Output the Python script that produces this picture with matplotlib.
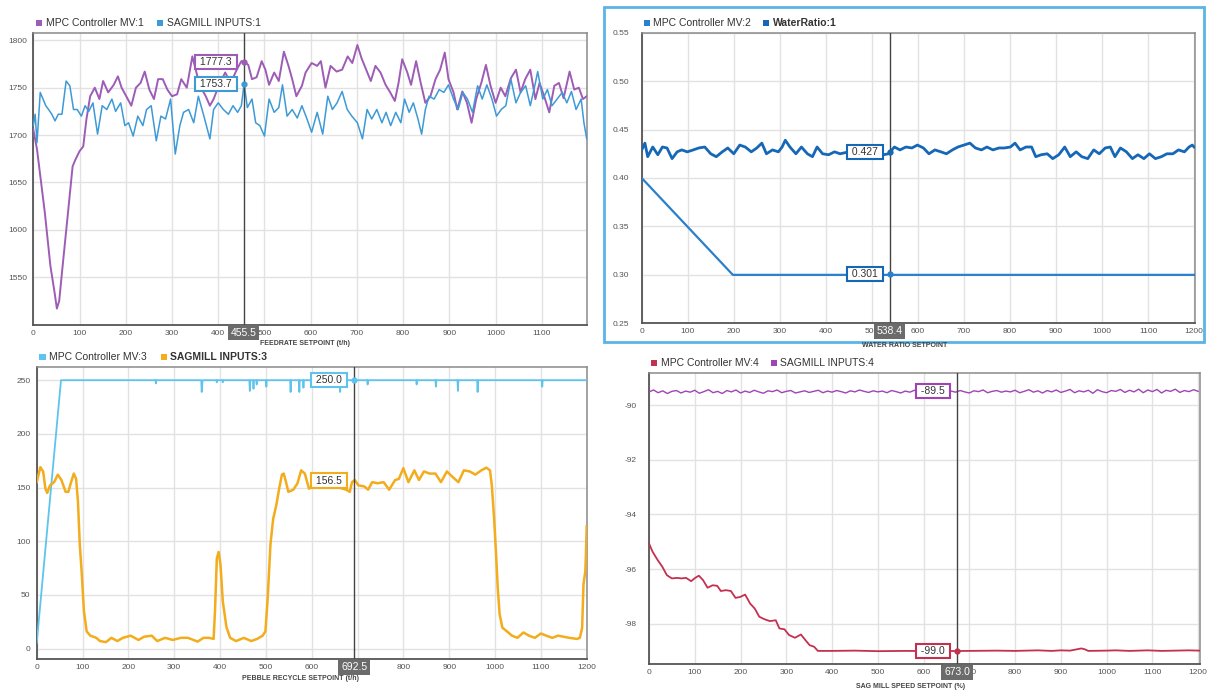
import matplotlib
matplotlib.use('Agg')
import matplotlib.pyplot as plt
from matplotlib.patches import Rectangle

plt.rcParams['font.family'] = ['Liberation Sans', 'DejaVu Sans']
plt.rcParams['axes.unicode_minus'] = False

# ---------------- data ----------------
# Panel 1: feedrate
mv1_x = [0,8,25,37,46,51,56,62,75,85,91,100,108,115,123,133,143,151,162,174,
         183,191,201,212,222,232,241,251,261,270,280,290,300,311,320,332,344,355,365,373,
         382,390,402,415,427,440,450,457,465,473,483,494,502,510,521,531,542,552,560,569,
         581,589,602,614,622,632,643,656,668,680,690,701,710,720,730,740,751,762,772,782,
         790,798,809,817,828,838,848,859,870,880,890,898,909,917,928,938,948,958,969,979,
         989,1000,1011,1021,1033,1044,1054,1064,1075,1086,1095,1105,1116,1127,1137,1147,1160,1170,1180,1189,
         1197]
mv1_y = [1706,1685,1618,1562,1534,1517,1525,1555,1618,1667,1674,1683,1688,1717,1741,1750,1738,1757,1745,1753,
         1762,1750,1741,1731,1750,1755,1767,1748,1738,1759,1759,1748,1741,1743,1759,1750,1783,1762,1748,1741,
         1731,1738,1753,1766,1755,1769,1778,1777,1774,1759,1761,1778,1769,1753,1766,1757,1788,1773,1759,1741,
         1752,1766,1776,1773,1778,1750,1773,1767,1769,1783,1776,1795,1781,1769,1757,1773,1766,1753,1745,1736,
         1755,1780,1766,1753,1778,1755,1734,1741,1759,1769,1787,1759,1745,1727,1746,1734,1713,1738,1755,1774,
         1752,1734,1750,1741,1760,1769,1745,1759,1769,1738,1755,1741,1724,1752,1755,1739,1767,1748,1750,1738,
         1741]
in1_x = [0,4,8,15,21,27,33,40,47,54,62,71,79,87,95,104,112,120,129,139,
         149,159,170,178,189,198,206,216,226,237,245,255,266,276,286,297,307,317,325,336,
         347,357,369,382,390,400,411,422,432,442,450,456,463,473,481,490,500,510,521,531,
         539,549,560,571,581,592,602,614,626,637,647,657,668,679,689,701,712,722,732,743,
         754,763,773,784,795,803,813,822,832,840,848,856,867,878,888,898,909,919,929,939,
         950,961,971,981,992,1002,1012,1022,1033,1044,1054,1065,1075,1086,1091,1102,1112,1122,1133,1144,
         1154,1164,1174,1185,1191,1197]
in1_y = [1710,1722,1692,1745,1738,1731,1727,1722,1715,1722,1722,1757,1752,1727,1727,1720,1731,1725,1734,1701,
         1731,1727,1738,1725,1734,1710,1713,1699,1720,1710,1727,1731,1694,1720,1717,1738,1680,1710,1724,1727,
         1713,1741,1720,1696,1727,1734,1727,1722,1731,1724,1731,1754,1729,1738,1713,1710,1699,1738,1724,1729,
         1753,1720,1727,1718,1731,1717,1703,1724,1701,1741,1727,1734,1746,1727,1720,1713,1696,1727,1717,1727,
         1713,1724,1710,1724,1713,1738,1724,1734,1717,1701,1727,1741,1738,1748,1745,1753,1738,1727,1745,1738,
         1724,1752,1738,1753,1738,1720,1727,1731,1759,1734,1745,1752,1731,1755,1767,1738,1748,1731,1738,1745,
         1734,1746,1727,1738,1713,1696]

# Panel 2: water ratio
mv2_x = [0, 198, 1202]
mv2_y = [0.400, 0.300, 0.300]
wr_x = [0,7,13,24,35,45,55,66,77,87,99,112,124,137,150,162,175,187,200,213,
        225,238,250,261,271,284,297,305,312,322,335,347,360,371,381,393,406,419,431,450,
        470,490,510,525,536,549,561,574,587,599,612,624,637,650,662,675,687,700,713,725,
        738,750,763,776,788,801,811,822,835,847,856,868,881,893,906,919,931,944,956,969,
        982,994,1007,1018,1028,1040,1053,1066,1078,1091,1103,1116,1129,1141,1154,1166,1179,1189,1196,1200]
wr_y = [0.429,0.436,0.422,0.432,0.424,0.432,0.431,0.420,0.427,0.429,0.427,0.429,0.431,0.432,0.425,0.422,0.427,0.431,0.425,0.434,
        0.432,0.427,0.431,0.436,0.425,0.429,0.427,0.432,0.439,0.432,0.425,0.432,0.425,0.422,0.432,0.425,0.424,0.427,0.425,0.427,
        0.425,0.428,0.426,0.424,0.425,0.432,0.429,0.432,0.431,0.434,0.431,0.425,0.429,0.427,0.425,0.429,0.432,0.434,0.436,0.431,
        0.429,0.432,0.429,0.431,0.431,0.432,0.436,0.429,0.432,0.432,0.422,0.424,0.425,0.420,0.424,0.432,0.422,0.427,0.422,0.420,
        0.429,0.425,0.431,0.432,0.422,0.431,0.427,0.420,0.424,0.420,0.425,0.420,0.422,0.425,0.425,0.429,0.427,0.432,0.434,0.432]

# Panel 3: pebble recycle
mv3_x = [0,53,259,260,261,359,360,362,392,393,394,405,406,407,464,465,466,472,473,474,
         479,480,481,500,501,502,553,554,555,572,573,574,581,582,583,661,662,663,721,722,
         723,828,829,830,870,871,872,918,919,920,961,962,963,1102,1103,1104,1200]
mv3_y = [5,250,250,247,250,250,239,250,250,248,250,250,248,250,250,240,250,250,242,250,
         250,246,250,250,244,250,250,239,250,250,239,250,250,243,250,250,239,250,250,246,
         250,250,246,250,250,244,250,250,240,250,250,239,250,250,244,250,250]
pb_x = [0,4,8,14,19,23,29,38,46,54,63,69,75,81,86,90,94,98,103,109,
        117,130,138,151,163,176,188,205,222,234,251,263,280,297,314,330,351,364,376,386,
        389,393,397,401,406,414,422,435,452,468,481,493,499,504,510,516,523,529,535,539,
        544,549,560,569,577,585,594,605,620,640,660,675,683,688,694,702,715,723,732,744,
        757,769,782,790,800,811,824,834,845,857,870,882,895,907,920,932,945,957,970,981,
        989,993,998,1002,1006,1010,1016,1026,1037,1049,1062,1074,1087,1100,1112,1125,1137,1150,1162,1179,
        1185,1190,1193,1197,1198,1200]
pb_y = [155,162,169,165,149,145,152,155,162,157,146,146,155,163,158,137,97,72,35,16,
        12,10,7,6,10,7,10,12,8,11,12,7,10,8,10,10,6.5,10,10,9,
        35,84,90,78,44,20,10,7,10,7,9,12,16,47,97,121,134,149,162,163,
        155,146,148,154,166,163,149,152,158,155,150,148,146,155,157,152,151,148,155,154,
        155,148,157,158,168,155,166,157,165,163,163,155,165,160,155,166,165,162,166,168.5,
        166,152,121,90,56,32,19.5,16,12,10,15,12,10,14,12,10,12,11,10,9,
        10,19,60,72,84,114]

# Panel 4: sag mill speed
mv4_x = [0,8,19,29,39,50,61,71,81,92,101,109,118,128,139,149,157,168,179,189,
         199,210,221,231,241,252,264,277,285,296,306,319,332,342,351,361,369,
         400,450,500,560,620,700,760,800,850,880,900,920,945,952,960,1000,1020,1050,1090,1120,1150,1180,1203]
mv4_y = [-95.06,-95.37,-95.67,-95.91,-96.22,-96.34,-96.32,-96.34,-96.32,-96.44,
         -96.32,-96.24,-96.40,-96.68,-96.59,-96.61,-96.80,-96.77,-96.80,-97.05,
         -97.02,-96.93,-97.26,-97.44,-97.74,-97.83,-97.90,-97.87,-98.17,-98.20,
         -98.41,-98.51,-98.39,-98.60,-98.78,-98.84,-98.99,
         -98.99,-98.98,-99.0,-98.99,-99.0,-98.99,-98.98,-98.99,-98.97,-98.99,
         -98.97,-98.98,-98.90,-98.93,-98.99,-98.98,-98.97,-98.99,-98.97,-98.99,
         -98.98,-98.97,-98.98]
in4_x = list(range(0, 1201, 10))
in4_y = [-89.52,-89.45,-89.55,-89.48,-89.58,-89.50,-89.47,-89.56,-89.49,-89.53,
         -89.46,-89.57,-89.51,-89.44,-89.55,-89.50,-89.58,-89.47,-89.52,-89.45,
         -89.56,-89.49,-89.54,-89.46,-89.52,-89.57,-89.48,-89.51,-89.45,-89.55,
         -89.50,-89.47,-89.56,-89.52,-89.48,-89.54,-89.50,-89.46,-89.55,-89.49,
         -89.53,-89.47,-89.51,-89.56,-89.48,-89.52,-89.45,-89.50,-89.54,-89.48,
         -89.52,-89.49,-89.55,-89.47,-89.51,-89.56,-89.49,-89.53,-89.46,-89.51,
         -89.55,-89.48,-89.52,-89.50,-89.46,-89.54,-89.49,-89.53,-89.47,-89.52,
         -89.56,-89.48,-89.51,-89.45,-89.55,-89.50,-89.47,-89.53,-89.49,-89.52,
         -89.46,-89.55,-89.50,-89.44,-89.53,-89.48,-89.56,-89.47,-89.52,-89.45,
         -89.54,-89.49,-89.43,-89.55,-89.48,-89.52,-89.46,-89.57,-89.44,-89.51,
         -89.55,-89.47,-89.50,-89.43,-89.54,-89.46,-89.52,-89.42,-89.55,-89.45,
         -89.51,-89.43,-89.56,-89.46,-89.50,-89.42,-89.54,-89.47,-89.51,-89.44,-89.50]

cursor = [455.5, 538.4, 692.5, 673.0]
cur_vals1 = [1777.3, 1753.7]
cur_vals2 = [0.427, 0.301]
cur_vals3 = [250.0, 156.5]
cur_vals4 = [-89.5, -99.0]

# ---------------- colours ----------------
C_PU1 = '#9d5cb5'
C_BL1 = '#3d9ad6'
C_BL2A = '#2a80cc'
C_BL2B = '#1668b6'
C_LB3 = '#5ec4ee'
C_OR3 = '#f3ac1c'
C_CR4 = '#c4304f'
C_PU4 = '#a044b4'

W, H = 1207, 691
fig = plt.figure(figsize=(W / 100, H / 100), dpi=100)


def ax_at(l, t, r, b):
    return fig.add_axes([l / W, 1 - b / H, (r - l) / W, (b - t) / H])


def style(ax, xlim, ylim, xticks, yticks, ypad, fmt=None):
    ax.set_xlim(*xlim)
    ax.set_ylim(*ylim)
    ax.set_xticks(xticks)
    ax.set_yticks(yticks)
    if fmt:
        ax.set_yticklabels([fmt.format(v) for v in yticks])
    ax.grid(True, color='#e2e2e2', lw=1.0)
    ax.set_axisbelow(True)
    ax.tick_params(length=0, labelsize=6, colors='#555555')
    ax.tick_params(axis='x', pad=3.5)
    ax.tick_params(axis='y', pad=ypad)
    for s in ['left', 'bottom']:
        ax.spines[s].set_color('#555555')
        ax.spines[s].set_linewidth(1.3)
    for s in ['top', 'right']:
        ax.spines[s].set_color('#8a8a8a')
        ax.spines[s].set_linewidth(1.1)


def vbox(ax, x, y, s, ec):
    ax.annotate(' ' + s + ' ', xy=(x, y), xytext=(-9, 0), textcoords='offset pixels',
                ha='right', va='center', fontsize=7.5, color='#333333',
                bbox=dict(boxstyle='square,pad=0.2', fc='white', ec=ec, lw=1.5),
                zorder=10, annotation_clip=False)


def xbox(ax, x, s):
    ax.annotate(s, xy=(x, 0), xycoords=('data', 'axes fraction'), xytext=(0, -3),
                textcoords='offset pixels', ha='center', va='top', fontsize=7.5,
                color='white', bbox=dict(boxstyle='square,pad=0.25', fc='#6b6b6b', ec='none'),
                zorder=11, annotation_clip=False)


def crosshair(ax, x):
    ax.axvline(x, color='#444444', lw=1.0, zorder=6)


def dot(ax, x, y, c):
    ax.plot([x], [y], 'o', ms=3.5, color=c, zorder=7, clip_on=False)


def legend_item(xs, y, color, text, xt, bold=False):
    fig.patches.append(Rectangle((xs / W, 1 - (y + 3) / H), 6 / W, 6 / H,
                                 transform=fig.transFigure, fc=color, ec='none'))
    fig.text(xt / W, 1 - y / H, text, fontsize=7.5, color='#333333', va='center', ha='left',
             fontweight='bold' if bold else 'normal')


def xlabel(xc, y, text):
    fig.text(xc / W, 1 - y / H, text, fontsize=5, fontweight='bold', color='#444444',
             ha='center', va='center')


# ---------------- panel 1 ----------------
ax1 = ax_at(33.3, 32.7, 586.7, 324.7)
style(ax1, (0, 1197), (1500, 1808), range(0, 1101, 100), range(1550, 1801, 50), 4.5)
ax1.plot(mv1_x, mv1_y, color=C_PU1, lw=1.4, zorder=3)
ax1.plot(in1_x, in1_y, color=C_BL1, lw=1.1, zorder=4)
crosshair(ax1, cursor[0])
dot(ax1, cursor[0], cur_vals1[0], C_PU1)
dot(ax1, cursor[0], cur_vals1[1], C_BL1)
vbox(ax1, cursor[0], cur_vals1[0], '%.1f' % cur_vals1[0], C_PU1)
vbox(ax1, cursor[0], cur_vals1[1], '%.1f' % cur_vals1[1], C_BL1)
xbox(ax1, cursor[0], '%.1f' % cursor[0])
legend_item(35.5, 23, C_PU1, 'MPC Controller MV:1', 46)
legend_item(156.5, 23, C_BL1, 'SAGMILL INPUTS:1', 167)
xlabel(305, 344, 'FEEDRATE SETPOINT (t/h)')

# ---------------- panel 2 ----------------
ax2 = ax_at(641.7, 32.7, 1195, 323.3)
style(ax2, (0, 1202), (0.25, 0.55), range(0, 1201, 100),
      [0.25, 0.30, 0.35, 0.40, 0.45, 0.50, 0.55], 9, fmt='{:.2f}')
ax2.plot(mv2_x, mv2_y, color=C_BL2A, lw=1.6, zorder=3)
ax2.plot(wr_x, wr_y, color=C_BL2B, lw=2.0, zorder=4)
crosshair(ax2, cursor[1])
dot(ax2, cursor[1], cur_vals2[0], C_BL2B)
dot(ax2, cursor[1], cur_vals2[1], C_BL2A)
vbox(ax2, cursor[1], cur_vals2[0], '%.3f' % cur_vals2[0], C_BL2B)
vbox(ax2, cursor[1], cur_vals2[1], '%.3f' % cur_vals2[1], C_BL2B)
xbox(ax2, cursor[1], '%.1f' % cursor[1])
legend_item(643.5, 23.3, C_BL2A, 'MPC Controller MV:2', 653)
legend_item(762.5, 23.3, C_BL2B, 'WaterRatio:1', 773, bold=True)
xlabel(905, 345.5, 'WATER RATIO SETPOINT')
fig.patches.append(Rectangle((604 / W, 1 - 341.7 / H), 600 / W, 334.4 / H,
                             transform=fig.transFigure, fill=False, ec='#5ab4e5', lw=2.0))

# ---------------- panel 3 ----------------
ax3 = ax_at(36.7, 367.3, 586.7, 659.3)
style(ax3, (0, 1200), (-10, 262), range(0, 1201, 100), range(0, 251, 50), 4.5)
ax3.plot(mv3_x, mv3_y, color=C_LB3, lw=1.3, zorder=3)
ax3.plot(pb_x, pb_y, color=C_OR3, lw=1.8, zorder=4)
crosshair(ax3, cursor[2])
dot(ax3, cursor[2], cur_vals3[0], C_LB3)
vbox(ax3, cursor[2], cur_vals3[0], '%.1f' % cur_vals3[0], C_LB3)
vbox(ax3, cursor[2], cur_vals3[1], '%.1f' % cur_vals3[1], C_OR3)
xbox(ax3, cursor[2], '%.1f' % cursor[2])
legend_item(39.5, 357.3, C_LB3, 'MPC Controller MV:3', 49)
legend_item(160.5, 357.3, C_OR3, 'SAGMILL INPUTS:3', 170, bold=True)
xlabel(300, 679, 'PEBBLE RECYCLE SETPOINT (t/h)')

# ---------------- panel 4 ----------------
ax4 = ax_at(649, 373.3, 1199.5, 664.3)
style(ax4, (0, 1203), (-99.48, -88.84), range(0, 1201, 100), range(-98, -89, 2), 9)
ax4.plot(mv4_x, mv4_y, color=C_CR4, lw=1.3, zorder=3)
ax4.plot(in4_x, in4_y, color=C_PU4, lw=1.0, zorder=4)
crosshair(ax4, cursor[3])
dot(ax4, cursor[3], cur_vals4[1], C_CR4)
vbox(ax4, cursor[3], cur_vals4[0], '%.1f' % cur_vals4[0], C_PU4)
vbox(ax4, cursor[3], cur_vals4[1], '%.1f' % cur_vals4[1], C_CR4)
xbox(ax4, cursor[3], '%.1f' % cursor[3])
legend_item(651, 363.3, C_CR4, 'MPC Controller MV:4', 661)
legend_item(771, 363.3, C_PU4, 'SAGMILL INPUTS:4', 780)
xlabel(911, 686, 'SAG MILL SPEED SETPOINT (%)')

fig.savefig('out.png', dpi=100)
